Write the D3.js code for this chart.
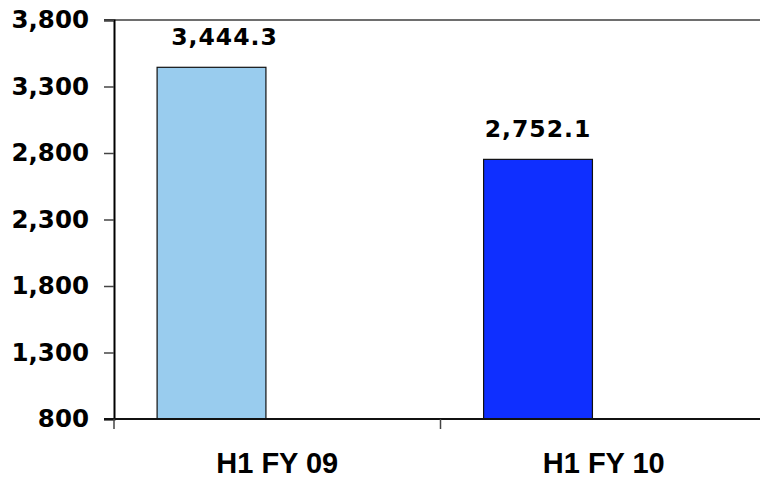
<!DOCTYPE html>
<html>
<head>
<meta charset="utf-8">
<script src="https://cdn.jsdelivr.net/npm/d3@7"></script>
<style>
  html, body { margin: 0; padding: 0; background: #fff; }
  svg { display: block; }
</style>
</head>
<body>
<svg id="chart" width="760" height="479"></svg>
<script>
// Half-year totals
const categories = ["H1 FY 09", "H1 FY 10"];
const values = [3444.3, 2752.1];
const barColors = ["#99CCEE", "#0F2FFF"];
const yTicks = [800, 1300, 1800, 2300, 2800, 3300, 3800];

const svg = d3.select("#chart");
const plotLeft = 114, plotRight = 767, plotTop = 20, plotBottom = 419;

const x = d3.scaleBand().domain(categories).range([plotLeft, plotRight]).padding(0);
const y = d3.scaleLinear().domain([800, 3800]).range([plotBottom, plotTop]);

const bw = x.bandwidth();
const barW = bw / 3;
const barOffset = bw * 0.132;

// top border of the plot area
svg.append("line")
  .attr("x1", plotLeft - 10).attr("x2", 760)
  .attr("y1", y(3800)).attr("y2", y(3800))
  .attr("stroke", "#6e6e6e").attr("stroke-width", 2);

// bars
svg.selectAll("rect.bar")
  .data(categories)
  .join("rect")
  .attr("class", "bar")
  .attr("x", (d) => x(d) + barOffset)
  .attr("width", barW)
  .attr("y", (d, i) => y(values[i]))
  .attr("height", (d, i) => y(800) - y(values[i]))
  .attr("fill", (d, i) => barColors[i])
  .attr("stroke", "#111")
  .attr("stroke-width", 1.2);

// y axis
const yAxis = d3.axisLeft(y)
  .tickValues(yTicks)
  .tickSize(10)
  .tickPadding(15)
  .tickFormat(d3.format(","));
const gy = svg.append("g").attr("transform", `translate(${plotLeft},0)`).call(yAxis);
gy.select(".domain").attr("stroke", "#000").attr("stroke-width", 2);
gy.selectAll(".tick line").attr("stroke", "#444").attr("stroke-width", 1.5);
gy.selectAll(".tick text")
  .attr("font-family", "DejaVu Sans, Verdana, sans-serif")
  .attr("font-weight", "bold")
  .attr("font-size", 24.5)
  .attr("fill", "#000");

// x axis with tick marks at category boundaries
svg.append("line")
  .attr("x1", plotLeft - 10).attr("x2", 760)
  .attr("y1", plotBottom).attr("y2", plotBottom)
  .attr("stroke", "#111").attr("stroke-width", 2);
const boundaries = categories.map((c) => x(c)).concat([plotRight]);
svg.selectAll("line.xtick")
  .data(boundaries)
  .join("line")
  .attr("class", "xtick")
  .attr("x1", (d) => d).attr("x2", (d) => d)
  .attr("y1", plotBottom).attr("y2", plotBottom + 10)
  .attr("stroke", "#444").attr("stroke-width", 1.5);

svg.selectAll("text.cat")
  .data(categories)
  .join("text")
  .attr("class", "cat")
  .attr("x", (d) => x(d) + bw / 2)
  .attr("y", plotBottom + 54)
  .attr("text-anchor", "middle")
  .attr("font-family", "Liberation Sans, Arial, sans-serif")
  .attr("font-weight", "bold")
  .attr("font-size", 29)
  .attr("fill", "#000")
  .text((d) => d);

// value labels above the bars
const fmt = d3.format(",.1f");
svg.selectAll("text.val")
  .data(categories)
  .join("text")
  .attr("class", "val")
  .attr("x", (d, i) => x(d) + barOffset + barW / 2 + (i === 0 ? 13 : 0))
  .attr("y", (d, i) => y(values[i]) - 22)
  .attr("text-anchor", "middle")
  .attr("font-family", "DejaVu Sans, Verdana, sans-serif")
  .attr("font-weight", "bold")
  .attr("font-size", 23.5)
  .attr("letter-spacing", 1)
  .attr("fill", "#000")
  .text((d, i) => fmt(values[i]));
</script>
</body>
</html>
